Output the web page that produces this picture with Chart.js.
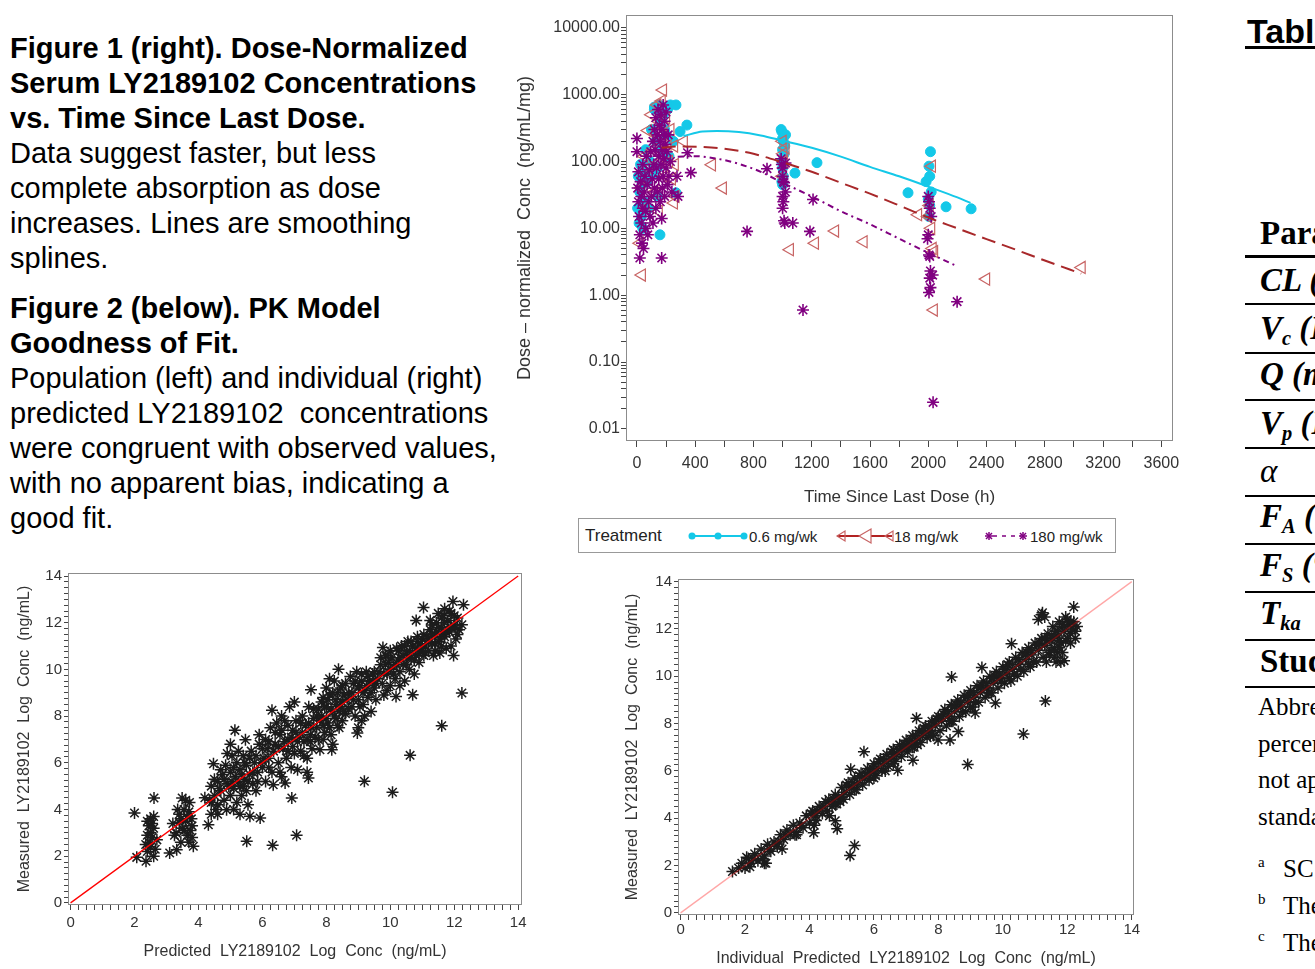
<!DOCTYPE html>
<html lang="en">
<head>
<meta charset="UTF-8">
<title>LY2189102 PK figures</title>
<script src="https://cdn.jsdelivr.net/npm/chart.js"></script>
<style>
  body { margin: 0; background: #fff; width: 1315px; height: 969px; overflow: hidden; position: relative;
         font-family: 'Liberation Sans', Arial, sans-serif; color: #000; }
  .abs { position: absolute; }
  .notes { left: 10px; font-size: 29px; line-height: 35px; white-space: nowrap; }
  #legend { left: 578px; top: 518px; width: 538px; height: 35px; box-sizing: border-box; border: 1px solid #999;
            font-size: 15px; color: #222; }
  #legend span { white-space: nowrap; line-height: 17px; }
  #table { left: 1245px; top: 0; width: 70px; height: 969px; overflow: hidden; white-space: nowrap; }
  .row { left: 15px; font-family: 'Liberation Serif', 'Times New Roman', serif; font-size: 33px; line-height: 33px; font-weight: bold; font-style: italic; }
  .row sub { font-size: 0.62em; line-height: 0; vertical-align: -0.3em; }
  .rule { left: 0; width: 70px; height: 2px; background: #000; }
  .foot { left: 13px; font-family: 'Liberation Serif', 'Times New Roman', serif; font-size: 25px; line-height: 25px; }
  .sup { left: 13px; font-family: 'Liberation Serif', 'Times New Roman', serif; font-size: 15px; line-height: 15px; }
</style>
</head>
<body>

<div class="abs notes" style="top:31px">
  <b>Figure 1 (right). Dose-Normalized</b><br>
  <b>Serum LY2189102 Concentrations</b><br>
  <b>vs. Time Since Last Dose.</b><br>
  Data suggest faster, but less<br>
  complete absorption as dose<br>
  increases. Lines are smoothing<br>
  splines.
</div>
<div class="abs notes" style="top:291px">
  <b>Figure 2 (below). PK Model</b><br>
  <b>Goodness of Fit.</b><br>
  Population (left) and individual (right)<br>
  predicted LY2189102&nbsp; concentrations<br>
  were congruent with observed values,<br>
  with no apparent bias, indicating a<br>
  good fit.
</div>

<div class="abs" style="left:510px;top:0">
  <canvas id="pkTime" width="680" height="515"></canvas>
</div>

<div id="legend" class="abs">
  <span class="abs" style="left:6px;top:8px;font-size:17px">Treatment</span>
  <svg class="abs" style="left:108px;top:7px" width="62" height="20">
    <line x1="2" y1="10" x2="60" y2="10" stroke="#14C8E8" stroke-width="2"/>
    <circle cx="5" cy="10" r="3.5" fill="#14C8E8"/>
    <circle cx="31" cy="10" r="3.5" fill="#14C8E8"/>
    <circle cx="57" cy="10" r="3.5" fill="#14C8E8"/>
  </svg>
  <span class="abs" style="left:170px;top:9px">0.6 mg/wk</span>
  <svg class="abs" style="left:256px;top:7px" width="60" height="20">
    <line x1="2" y1="10" x2="57" y2="10" stroke="#B22222" stroke-width="2"/>
    <polygon points="2,10 10,5 10,15" fill="none" stroke="#C86464" stroke-width="1.2"/>
    <polygon points="24,10 36,3 36,17" fill="#fff" stroke="#C86464" stroke-width="1.2"/>
    <polygon points="50,10 58,5 58,15" fill="none" stroke="#C86464" stroke-width="1.2"/>
  </svg>
  <span class="abs" style="left:315px;top:9px">18 mg/wk</span>
  <svg class="abs" style="left:404px;top:7px" width="46" height="20" stroke="#800080" stroke-width="1.5">
    <line x1="10" y1="10" x2="38" y2="10" stroke-dasharray="4,5"/>
    <line x1="2" y1="10" x2="10" y2="10"/><line x1="6" y1="6" x2="6" y2="14"/>
    <line x1="3" y1="7" x2="9" y2="13"/><line x1="9" y1="7" x2="3" y2="13"/>
    <line x1="36" y1="10" x2="44" y2="10"/><line x1="40" y1="6" x2="40" y2="14"/>
    <line x1="37" y1="7" x2="43" y2="13"/><line x1="43" y1="7" x2="37" y2="13"/>
  </svg>
  <span class="abs" style="left:451px;top:9px">180 mg/wk</span>
</div>

<div class="abs" style="left:0;top:560px">
  <canvas id="popFit" width="540" height="409"></canvas>
</div>
<div class="abs" style="left:600px;top:560px">
  <canvas id="indFit" width="560" height="409"></canvas>
</div>

<div id="table" class="abs">
  <div class="abs" style="left:2px;top:14px;font-size:34px;line-height:34px;font-weight:bold">Table 1</div>
  <div class="abs" style="left:0;top:46px;width:70px;height:3px;background:#000"></div>
  <div class="abs row" style="top:217px;font-style:normal">Parameter</div>
  <div class="abs rule" style="top:255px;height:3px"></div>
  <div class="abs row" style="top:264px">CL (L/h)</div>
  <div class="abs rule" style="top:303px"></div>
  <div class="abs row" style="top:312px">V<sub>c</sub> (L)</div>
  <div class="abs rule" style="top:352px"></div>
  <div class="abs row" style="top:358px">Q (mL/h)</div>
  <div class="abs rule" style="top:399px"></div>
  <div class="abs row" style="top:407px">V<sub>p</sub> (L)</div>
  <div class="abs rule" style="top:447px"></div>
  <div class="abs row" style="top:455px;font-weight:normal">α</div>
  <div class="abs rule" style="top:495px"></div>
  <div class="abs row" style="top:500px">F<sub>A</sub> (%)</div>
  <div class="abs rule" style="top:543px"></div>
  <div class="abs row" style="top:549px">F<sub>S</sub> (%)</div>
  <div class="abs rule" style="top:591px"></div>
  <div class="abs row" style="top:597px">T<sub>ka</sub></div>
  <div class="abs rule" style="top:639px"></div>
  <div class="abs row" style="top:645px;font-style:normal">Study</div>
  <div class="abs rule" style="top:686px"></div>
  <div class="abs foot" style="top:694px">Abbreviations:</div>
  <div class="abs foot" style="top:731px">percent</div>
  <div class="abs foot" style="top:767px">not applicable</div>
  <div class="abs foot" style="top:804px">standard</div>
  <div class="abs sup" style="top:855px">a</div>
  <div class="abs foot" style="top:856px;left:38px">SC</div>
  <div class="abs sup" style="top:892px">b</div>
  <div class="abs foot" style="top:893px;left:38px">The</div>
  <div class="abs sup" style="top:929px">c</div>
  <div class="abs foot" style="top:930px;left:38px">The</div>
</div>

<script>
// Figure 1 data: time since last dose (h) vs dose-normalized conc (ng/mL/mg)
const treatments = ['0.6 mg/wk', '18 mg/wk', '180 mg/wk'];
const timeTicks = [0, 400, 800, 1200, 1600, 2000, 2400, 2800, 3200, 3600];
const concTicks = [0.01, 0.1, 1, 10, 100, 1000, 10000];

const lowDose = [[5,20],[10,60],[15,12],[20,35],[25,90],[30,15],[35,45],[40,10],[45,70],[50,25],[60,150],[70,50],
  [80,20],[90,100],[100,300],[110,65],[120,600],[120,650],[130,200],[140,80],[140,30],[150,700],[158,8],[160,400],
  [170,150],[175,650],[180,500],[190,300],[200,250],[210,600],[220,120],[230,700],[250,200],[268,700],[268,34],
  [296,280],[343,350],
  [990,300],[995,280],[1000,220],[1005,200],[1000,150],[1010,130],[995,100],[1000,80],[1005,60],[995,50],[1000,45],
  [1020,250],[1015,170],[1085,67],[1236,96],[1861,34],[1985,50],[2005,85],[2015,140],[2010,60],[2000,27],[2010,22],
  [2005,15],[2020,35],[2122,21],[2294,19.6]];

const midDose = [[20,6],[30,40],[34,2.0],[50,120],[60,20],[76,290],[80,80],[100,500],[110,150],[120,35],[130,260],
  [140,700],[150,400],[150,18],[160,100],[170,800],[179,1170],[180,250],[190,60],[200,450],[210,170],[220,100],
  [230,300],[240,55],[254,24],[255,170],[260,90],[265,30],[322,200],[515,89],[590,40],
  [1000,200],[1005,130],[1010,100],[1000,60],[1020,160],[1050,4.8],[1222,6.0],[1360,9.1],[1556,6.3],
  [1930,16],[2000,15],[2010,22],[2020,10],[2025,85],[2030,5],[2040,4.5],[2038,0.6],[2397,1.74],[3053,2.6]];

const highDose = [[0,220],[0,140],[5,40],[10,25],[10,70],[15,15],[20,3.6],[20,8],[25,50],[30,12],[30,30],[35,6],
  [40,90],[40,20],[45,5],[50,35],[55,60],[60,10],[60,18],[65,120],[70,45],[75,8],[80,25],[85,75],[90,15],[95,140],
  [100,30],[105,55],[110,200],[110,12],[115,90],[120,300],[120,40],[125,150],[130,20],[130,450],[135,80],[140,250],
  [140,35],[145,600],[150,120],[150,55],[155,350],[160,200],[160,25],[165,500],[165,90],[170,3.6],[170,14],
  [170,300],[175,150],[175,40],[180,700],[180,60],[185,250],[185,110],[190,400],[190,30],[195,180],[200,80],
  [200,550],[205,140],[210,45],[215,250],[220,60],[230,100],[240,35],[275,60],[282,30],[347,135],[370,68],
  [756,9],[893,78],[990,110],[995,90],[1000,80],[1005,50],[1010,48],[1000,30],[1005,25],[1000,20],[1010,13],
  [1015,12],[1020,95],[1000,60],[1020,35],[1070,12],[1140,0.6],[1188,9],[1209,27],
  [1995,7],[2000,30],[2005,25],[2010,20],[2000,8],[2005,4],[2010,3.8],[2015,2.3],[2010,1.8],[2030,2],[2015,1.3],
  [2005,1.1],[2020,15],[2033,0.025],[2198,0.8]];

// smoothing spline curves
const lowCurveT = [320, 450, 550, 700, 850, 1000, 1200, 1400, 1600, 1800, 2000, 2200, 2290];
const lowCurveC = [240, 280, 285, 275, 245, 205, 160, 118, 83, 60, 42, 29, 24];
const midCurveT = [170, 300, 450, 600, 800, 1000, 1200, 1400, 1600, 1800, 2000, 2200, 2400, 2600, 2800, 3050];
const midCurveC = [160, 168, 165, 155, 130, 97, 70, 48, 33, 22, 14.5, 10, 6.9, 4.8, 3.3, 2.1];
const highCurveT = [280, 400, 550, 700, 850, 1000, 1200, 1400, 1600, 1800, 2000, 2200];
const highCurveC = [118, 120, 110, 92, 70, 48, 30, 18, 11.5, 7, 4.3, 2.7];

// Figure 2 data: [predicted, measured] log conc (ng/mL)
const logTicks = [0, 2, 4, 6, 8, 10, 12, 14];
const unity = [0, 14];

const popFit = [
  [2.4,2.2],[2.45,2.6],[2.5,3.0],[2.55,3.4],[2.6,3.7],[2.4,2.9],[2.5,2.4],[2.6,2.0],[2.45,3.3],[2.55,2.8],
  [2.35,2.5],[2.6,3.2],[2.5,3.6],[2.65,2.3],[2.4,3.5],[2.0,3.85],[2.07,1.95],[2.36,1.78],[2.61,4.49],[2.7,2.7],
  [3.1,2.14],[3.32,2.28],[3.84,2.43],[3.2,3.4],[3.3,3.0],[3.4,3.8],[3.45,2.6],[3.5,3.2],[3.55,4.0],[3.6,3.5],
  [3.65,2.9],[3.7,3.9],[3.72,4.3],[3.75,3.1],[3.78,3.6],[3.8,2.8],[3.6,4.4],[3.4,3.45],[3.35,4.0],[3.49,4.49],
  [3.7,2.6],[3.25,2.9],[3.55,3.1],[3.65,3.7],[3.8,3.3],[3.45,3.6],
  [4.31,3.35],[4.4,3.8],[4.35,4.4],[4.4,5.0],[4.5,4.6],[4.47,5.96],[4.6,4.2],[4.6,5.2],[4.7,4.8],[4.75,5.5],
  [4.8,4.4],[4.85,5.9],[4.88,3.99],[4.9,5.1],[5.0,4.6],[5.0,5.6],[5.05,6.3],[5.1,4.9],[5.14,7.39],[5.15,5.4],
  [5.2,4.3],[5.2,6.0],[5.3,5.0],[5.3,5.7],[5.35,4.6],[5.4,6.3],[5.45,5.3],[5.47,6.99],[5.5,4.8],[5.5,5.9],
  [5.55,4.2],[5.6,5.5],[5.61,3.71],[5.65,6.5],[5.7,5.1],[5.75,6.0],[5.8,4.8],[5.85,5.6],[5.9,6.8],[5.93,3.64],
  [5.9,7.2],[5.51,2.64],[4.2,4.5],[4.6,3.8],[5.1,4.0],[5.3,3.8],[4.9,6.4],[5.0,6.8],
  [4.5,5.3],[4.65,4.9],[4.7,5.7],[4.8,5.3],[4.95,5.0],[5.05,5.2],[5.1,5.8],[5.25,5.2],[5.25,6.5],[5.35,5.5],
  [5.4,5.0],[5.45,6.0],[5.55,5.2],[5.6,6.2],[5.7,5.6],[5.8,6.3],[5.85,5.2],[5.95,6.0],[4.55,4.0],[4.4,4.3],
  [6.0,5.8],[6.0,6.6],[6.1,7.0],[6.1,5.2],[6.2,6.2],[6.25,7.5],[6.3,5.6],[6.3,8.25],[6.32,2.47],[6.34,5.06],
  [6.4,6.8],[6.45,7.7],[6.5,6.0],[6.55,7.2],[6.6,5.4],[6.65,6.6],[6.71,5.14],[6.7,7.8],[6.75,6.2],[6.8,7.0],
  [6.85,8.4],[6.9,5.8],[6.92,4.49],[6.95,7.4],[7.0,6.4],[7.0,8.6],[7.05,7.8],[7.07,2.9],[7.1,5.7],[7.15,7.1],
  [7.2,6.5],[7.25,8.0],[7.3,6.9],[7.35,7.6],[7.4,6.2],[7.44,5.35],[7.45,8.4],[7.5,7.2],[7.52,9.13],[7.55,6.6],
  [7.6,7.9],[7.4,5.6],[6.6,8.0],[6.2,6.9],
  [6.05,6.2],[6.15,6.6],[6.2,5.8],[6.35,6.5],[6.4,7.3],[6.5,6.7],[6.55,5.6],[6.6,7.4],[6.7,6.9],[6.8,6.5],
  [6.8,7.6],[6.9,7.1],[6.95,6.7],[7.05,7.3],[7.1,6.9],[7.2,7.7],[7.25,7.3],[7.3,6.3],[7.4,7.0],[7.45,7.7],
  [7.5,6.9],[7.55,7.5],[7.6,8.3],[7.65,7.1],
  [7.7,7.5],[7.75,8.3],[7.8,6.56],[7.85,8.0],[7.9,8.8],[7.95,7.3],[8.0,8.4],[8.0,9.2],[8.05,7.7],[8.1,8.9],
  [8.15,7.2],[8.17,6.56],[8.2,8.2],[8.25,9.5],[8.3,7.9],[8.3,8.7],[8.35,9.0],[8.38,10.01],[8.4,7.5],[8.45,8.4],
  [8.5,9.3],[8.5,7.8],[8.55,8.9],[8.6,8.1],[8.1,9.6],[7.9,7.0],[8.2,6.8],
  [7.7,8.0],[7.75,7.0],[7.8,7.8],[7.85,8.6],[7.9,7.6],[7.95,8.4],[8.0,7.9],[8.05,8.7],[8.1,7.5],[8.15,8.3],
  [8.2,9.0],[8.25,8.0],[8.3,8.5],[8.35,7.6],[8.4,8.2],[8.45,9.2],[8.5,8.6],[8.55,8.2],[8.6,9.4],[8.65,8.7],
  [8.7,9.0],[8.75,9.7],[8.8,8.4],[8.85,9.4],[8.9,8.0],[8.95,9.9],[8.97,7.28],[9.0,8.7],[9.05,9.3],[9.1,7.8],
  [9.1,9.8],[9.15,8.5],[9.19,5.21],[9.2,9.1],[9.25,9.9],[9.3,8.8],[9.35,9.5],[9.4,8.2],[9.45,9.8],[9.5,9.2],
  [9.55,8.7],[9.6,9.6],[9.0,7.5],[9.2,8.0],
  [8.7,8.3],[8.8,9.0],[8.85,8.7],[8.9,9.5],[9.0,9.2],[9.05,8.4],[9.1,9.5],[9.15,9.0],[9.25,9.3],[9.3,9.7],
  [9.4,9.0],[9.45,9.5],[9.5,9.9],[9.55,9.4],[9.65,9.9],[9.7,10.5],
  [9.7,10.2],[9.75,9.4],[9.77,10.94],[9.8,8.9],[9.85,10.6],[9.9,9.8],[9.95,10.3],[10.0,9.3],[10.0,10.8],
  [10.07,4.74],[10.1,10.1],[10.15,9.6],[10.18,8.84],[10.2,10.9],[10.25,10.4],[10.3,9.9],[10.35,11.0],[10.4,10.2],
  [10.45,9.5],[10.5,10.7],[10.55,11.2],[10.6,10.0],[10.62,6.32],[10.65,10.5],[10.7,8.92],[10.7,11.0],[10.75,9.8],
  [10.8,10.6],[10.81,12.1],[10.85,11.2],[10.9,10.3],[10.95,10.8],[11.0,11.3],[11.04,12.65],[11.05,10.6],
  [11.1,11.0],[10.3,9.3],[9.9,9.1],
  [9.8,9.8],[9.85,10.2],[9.9,10.6],[10.0,10.0],[10.05,10.5],[10.1,9.8],[10.2,10.2],[10.25,10.8],[10.3,10.5],
  [10.4,10.6],[10.45,11.0],[10.5,10.2],[10.55,10.5],[10.6,10.8],[10.65,11.2],[10.75,10.4],[10.8,10.9],
  [10.85,11.4],[10.9,10.7],[10.95,11.1],[11.0,10.9],[11.05,11.5],[11.1,10.7],
  [11.15,11.4],[11.2,10.8],[11.25,11.7],[11.3,11.1],[11.35,10.6],[11.4,11.5],[11.45,12.0],[11.5,11.2],
  [11.55,10.7],[11.6,11.8],[11.61,7.59],[11.65,12.3],[11.7,11.4],[11.75,10.9],[11.8,12.1],[11.85,11.6],
  [11.9,12.4],[11.96,12.91],[11.98,10.6],[12.0,11.9],[12.05,11.3],[12.1,12.2],[12.15,11.7],[12.24,11.91],
  [12.24,8.99],[12.29,12.77],[11.7,12.6],[11.5,12.4],[11.3,11.9],[11.9,11.0],
  [11.2,11.3],[11.25,12.1],[11.3,11.5],[11.4,11.1],[11.45,11.6],[11.5,11.8],[11.55,11.3],[11.6,12.2],
  [11.65,11.5],[11.7,12.0],[11.75,11.6],[11.8,11.7],[11.85,12.5],[11.9,11.8],[12.0,12.3],[12.05,11.8],
  [12.1,11.5],[11.4,10.8],[11.6,11.0]];

const indFit = [
  [1.61,1.75],[1.8,1.9],[1.9,2.1],[2.0,1.9],[2.1,2.3],[2.15,1.95],[2.2,2.1],[2.3,2.5],[2.4,2.2],[2.5,2.7],
  [2.6,2.4],[2.6,2.1],[2.65,2.1],[2.7,2.9],[2.8,2.6],[2.9,3.0],[3.0,2.8],[3.1,3.3],[3.15,2.7],[3.2,3.1],
  [3.3,3.5],[3.4,3.3],[3.5,3.7],[3.6,3.4],[3.7,3.8],[3.8,3.6],[3.9,4.1],[4.0,3.8],[4.1,4.3],[4.13,3.39],
  [4.15,3.7],[4.2,4.1],[4.3,4.5],[4.4,4.2],[4.5,4.7],[4.55,4.3],[4.6,4.8],[4.62,4.1],[4.7,4.5],[4.8,5.0],
  [4.8,3.89],[4.85,4.6],[4.86,3.56],[4.9,4.9],[5.0,5.3],[5.05,4.8],[5.1,5.1],[5.2,5.5],[5.25,5.0],[5.26,2.42],
  [5.28,6.07],[5.3,5.3],[5.4,5.7],[5.4,2.85],[5.45,5.2],[5.5,5.5],[5.6,5.9],[5.65,5.4],[5.69,6.81],[5.7,5.7],
  [5.8,6.1],[5.85,5.6],[5.9,5.9],[6.0,6.3],[6.05,5.8],[6.1,6.1],[6.2,6.5],[6.25,6.0],[6.3,6.3],[6.4,6.7],
  [6.45,6.2],[6.5,6.5],[6.6,6.9],[6.65,6.4],[6.7,6.7],[6.74,6.03],[6.8,7.1],[6.85,6.6],[6.9,6.9],[7.0,7.3],
  [7.05,6.8],[7.1,7.1],[7.2,7.5],[7.21,6.45],[7.25,7.0],[7.3,7.3],[7.32,8.23],[7.4,7.7],[7.45,7.2],[7.5,7.5],
  [7.6,7.9],[7.65,7.4],[7.7,7.7],[7.8,8.1],[7.85,7.5],[7.9,7.9],[7.99,7.31],[8.0,8.3],[8.05,7.7],[8.1,8.1],
  [8.2,8.6],[8.25,7.9],[8.3,8.3],[8.36,7.31],[8.4,8.8],[8.41,9.97],[8.45,8.1],[8.5,8.5],[8.6,9.0],[8.62,7.66],
  [8.65,8.3],[8.7,8.7],[8.8,9.2],[8.85,8.5],[8.9,8.9],[8.91,6.27],[9.0,9.4],[9.05,8.7],[9.1,9.1],[9.14,8.45],
  [9.2,9.6],[9.25,8.9],[9.3,9.3],[9.35,10.37],[9.4,9.8],[9.45,9.1],[9.5,9.5],[9.6,10.0],[9.65,9.3],[9.7,9.7],
  [9.77,8.87],[9.8,10.2],[9.85,9.5],[9.9,9.9],[10.0,10.4],[10.05,9.7],[10.1,10.1],[10.2,10.6],[10.25,9.8],
  [10.27,11.37],[10.3,10.3],[10.4,10.8],[10.45,10.0],[10.5,10.5],[10.6,11.0],[10.64,7.56],[10.65,10.2],
  [10.7,10.7],[10.8,11.2],[10.85,10.4],[10.9,10.9],[11.0,11.4],[11.05,10.6],[11.1,11.1],[11.2,11.6],
  [11.23,12.68],[11.25,10.8],[11.3,11.3],[11.32,8.95],[11.35,10.6],[11.4,11.8],[11.45,11.0],[11.5,11.5],
  [11.55,12.1],[11.6,11.2],[11.65,10.6],[11.7,11.7],[11.7,11.0],[11.75,12.3],[11.8,11.4],[11.8,10.6],
  [11.85,11.0],[11.9,11.9],[11.9,10.66],[11.95,12.5],[12.0,11.6],[12.05,12.2],[12.1,11.8],[12.2,12.3],
  [12.2,12.93],[12.25,11.9],[12.3,12.1],[11.1,12.4],[11.2,12.6],[11.3,12.5],
  [2.05,2.35],[2.55,2.3],[3.05,3.0],[3.55,3.3],[4.05,4.2],[4.45,4.5],[4.95,4.7],[5.15,5.4],[5.55,5.8],
  [5.95,6.1],[6.15,6.4],[6.35,6.0],[6.55,6.8],[6.95,7.1],[7.15,7.3],[7.35,7.1],[7.55,7.8],[7.75,7.5],
  [7.95,8.2],[8.15,8.4],[8.35,8.1],[8.55,8.8],[8.75,8.5],[8.95,9.2],[9.15,8.9],[9.35,9.6],[9.55,9.3],
  [9.75,10.0],[9.95,9.8],[10.15,10.5],[10.35,10.1],[10.55,10.3],[10.75,11.0],[10.95,10.6],[11.15,11.4],
  [11.35,11.5],[11.45,10.9],[11.55,11.6],[11.65,11.9],[11.75,11.2],[11.85,12.2],[12.0,12.4],[12.15,12.0],
  [12.25,11.6],[11.6,10.8],[12.1,11.4],
  [2.25,2.3],[2.75,2.7],[3.25,3.3],[3.75,3.7],[4.25,4.3],[4.75,4.8],[5.0,4.9],[5.35,5.5],[5.75,5.9],[6.0,6.0],
  [6.3,6.5],[6.6,6.6],[6.75,6.9],[7.0,7.0],[7.3,7.5],[7.5,7.7],[7.7,7.9],[7.9,8.1],[8.1,8.3],[8.3,8.5],
  [8.5,8.7],[8.7,8.9],[8.9,9.1],[9.1,9.3],[9.3,9.5],[9.5,9.7],[9.7,9.9],[9.9,10.1],[10.1,10.3],[10.3,10.5],
  [10.5,10.7],[10.7,10.9],[10.9,11.1],[11.1,11.3],[11.3,11.6],[11.5,11.7],[11.7,11.9],[11.9,12.1],[12.1,12.3],
  [11.95,11.5],[11.75,11.5],[11.5,11.1],[10.8,10.5],[10.2,9.9],[9.6,9.3],[9.0,8.7],[8.4,8.1],[7.8,7.6],
  [7.2,7.0],[6.6,6.3],[6.0,5.7],[5.4,5.2],[4.8,4.6],[4.2,3.9],[3.6,3.3]];

const CYAN = '#14C8E8';
const RED = '#A8282A';
const RED_MARK = '#C86464';
const PURPLE = '#800080';

Chart.defaults.font.family = "'Liberation Sans', Arial, sans-serif";
Chart.defaults.color = '#333';

const toXY = arr => arr.map(([x, y]) => ({ x, y }));
const curve = (ts, cs) => ts.map((t, i) => ({ x: t, y: cs[i] }));
const isMajor = (v, major) => major.some(m => Math.abs(m - v) < 1e-9 * Math.max(1, Math.abs(m)));

// major ticks plus evenly split minor ticks between them
function linearTicks(major, parts) {
  const out = [];
  for (let i = 0; i < major.length - 1; i++) {
    for (let k = 0; k < parts; k++) out.push(major[i] + (major[i + 1] - major[i]) * k / parts);
  }
  out.push(major[major.length - 1]);
  return out;
}
function logTicksWithMinor(major) {
  const out = [];
  for (let i = 0; i < major.length - 1; i++) {
    for (let k = 1; k < 10; k++) out.push(major[i] * k);
  }
  out.push(major[major.length - 1]);
  return out;
}

// grey box round the plot area
const frame = {
  id: 'frame',
  beforeDatasetsDraw(chart) {
    const { ctx, chartArea: a } = chart;
    ctx.save();
    ctx.strokeStyle = '#8c8c8c';
    ctx.lineWidth = 1;
    ctx.strokeRect(a.left + 0.5, a.top + 0.5, a.right - a.left - 1, a.bottom - a.top - 1);
    ctx.restore();
  }
};

function axis(opts) {
  return {
    type: opts.type || 'linear',
    min: opts.min,
    max: opts.max,
    afterBuildTicks: s => { s.ticks = opts.ticks.map(v => ({ value: v })); },
    afterFit: s => { if (opts.width) s.width = opts.width; if (opts.height) s.height = opts.height; },
    grid: { drawOnChartArea: false, tickLength: opts.tickLength || 5, tickColor: '#444' },
    border: { display: false },
    ticks: { autoSkip: false, maxRotation: 0, minRotation: 0, padding: opts.pad, font: { size: opts.size }, color: '#333',
             callback: opts.label },
    title: { display: true, text: opts.title, color: '#333', font: { size: opts.titleSize }, padding: opts.titlePad }
  };
}

// Figure 1
new Chart(document.getElementById('pkTime'), {
  type: 'scatter',
  data: {
    datasets: [
      { type: 'line', data: curve(lowCurveT, lowCurveC), borderColor: CYAN, borderWidth: 2, pointRadius: 0,
        showLine: true, cubicInterpolationMode: 'monotone', order: 0 },
      { type: 'line', data: curve(midCurveT, midCurveC), borderColor: RED, borderWidth: 2, borderDash: [14, 7],
        pointRadius: 0, showLine: true, cubicInterpolationMode: 'monotone', order: 0 },
      { type: 'line', data: curve(highCurveT, highCurveC), borderColor: PURPLE, borderWidth: 2, borderDash: [6, 4, 2, 4],
        pointRadius: 0, showLine: true, cubicInterpolationMode: 'monotone', order: 0 },
      { label: treatments[2], data: toXY(highDose), pointStyle: 'star', pointRadius: 6, borderColor: PURPLE,
        backgroundColor: PURPLE, borderWidth: 1.6, order: 1 },
      { label: treatments[1], data: toXY(midDose), pointStyle: 'triangle', pointRotation: -90, pointRadius: 7,
        borderColor: RED_MARK, backgroundColor: 'rgba(255,255,255,0)', borderWidth: 1.2, order: 2 },
      { label: treatments[0], data: toXY(lowDose), pointStyle: 'circle', pointRadius: 5, borderColor: CYAN,
        backgroundColor: CYAN, borderWidth: 1, order: 3 }
    ]
  },
  options: {
    responsive: false,
    animation: false,
    layout: { padding: { top: 15, right: 17, bottom: 0, left: 0 } },
    plugins: { legend: { display: false }, tooltip: { enabled: false } },
    scales: {
      x: axis({ min: -75, max: 3680, ticks: linearTicks(timeTicks, 2), height: 74, tickLength: 6, pad: 7, size: 16,
                label: v => isMajor(v, timeTicks) ? String(v) : '',
                title: 'Time Since Last Dose (h)', titleSize: 17, titlePad: { top: 0, bottom: 7 } }),
      y: axis({ type: 'logarithmic', min: 0.0066, max: 15500, ticks: logTicksWithMinor(concTicks), width: 116,
                tickLength: 5, pad: 1, size: 16,
                label: v => isMajor(v, concTicks) ? v.toFixed(2) : '',
                title: 'Dose \u2013 normalized  Conc  (ng/mL/mg)', titleSize: 18, titlePad: { top: 4, bottom: 0 } })
    }
  },
  plugins: [frame]
});

// Figure 2
function fitChart(id, points, lineColor, geo) {
  new Chart(document.getElementById(id), {
    type: 'scatter',
    data: {
      datasets: [
        { type: 'line', data: unity.map(v => ({ x: v, y: v })), borderColor: lineColor, borderWidth: 1.3,
          pointRadius: 0, showLine: true, order: 0 },
        { data: toXY(points), pointStyle: 'star', pointRadius: 6, borderColor: '#1c1c1c', backgroundColor: '#1c1c1c',
          borderWidth: 1.5, order: 1 }
      ]
    },
    options: {
      responsive: false,
      animation: false,
      layout: { padding: { top: geo.top, right: geo.right, bottom: 0, left: 0 } },
      plugins: { legend: { display: false }, tooltip: { enabled: false } },
      scales: {
        x: axis({ min: geo.xMin, max: geo.xMax, ticks: linearTicks(logTicks, 8), height: geo.xHeight, tickLength: 5,
                  pad: geo.xPad, size: 15, label: v => isMajor(v, logTicks) ? String(v) : '',
                  title: geo.xTitle, titleSize: 16, titlePad: { top: 0, bottom: geo.xTitlePad } }),
        y: axis({ min: geo.yMin, max: geo.yMax, ticks: linearTicks(logTicks, 8), width: geo.yWidth, tickLength: 4,
                  pad: 2, size: 15, label: v => isMajor(v, logTicks) ? String(v) : '',
                  title: 'Measured  LY2189102  Log  Conc  (ng/mL)', titleSize: 16, titlePad: { top: geo.yTitlePad, bottom: 0 } })
      }
    },
    plugins: [frame]
  });
}

fitChart('popFit', popFit, '#FF0000', {
  top: 13, right: 18, xHeight: 64, yWidth: 68, xMin: -0.08, xMax: 14.12, yMin: -0.09, yMax: 14.13,
  xPad: 4, xTitlePad: 8, yTitlePad: 15, xTitle: 'Predicted  LY2189102  Log  Conc  (ng/mL)'
});
fitChart('indFit', indFit, 'rgba(255,0,0,0.35)', {
  top: 19, right: 26, xHeight: 54, yWidth: 78, xMin: -0.08, xMax: 14.07, yMin: -0.09, yMax: 14.11,
  xPad: 1, xTitlePad: 1, yTitlePad: 23, xTitle: 'Individual  Predicted  LY2189102  Log  Conc  (ng/mL)'
});
</script>
</body>
</html>
